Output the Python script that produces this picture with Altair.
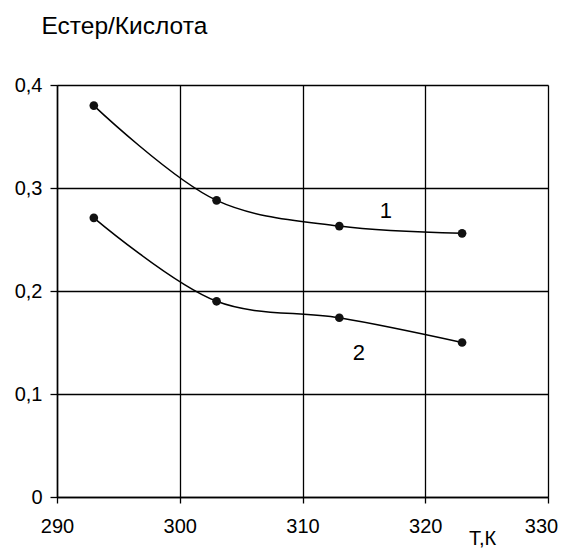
import altair as alt
import pandas as pd

# Data
temps = [293, 303, 313, 323]
series1 = [0.380, 0.288, 0.263, 0.256]
series2 = [0.271, 0.190, 0.174, 0.150]
curve_labels = ["1", "2"]
label_x = [316.8, 314.6]
label_y = [0.278, 0.140]

x_ticks = [290, 300, 310, 320, 330]
y_ticks = [0, 0.1, 0.2, 0.3, 0.4]

rows = []
for t, v in zip(temps, series1):
    rows.append({"T": t, "v": v, "s": "1"})
for t, v in zip(temps, series2):
    rows.append({"T": t, "v": v, "s": "2"})
df = pd.DataFrame(rows)
lab_df = pd.DataFrame({"t": curve_labels, "x": label_x, "y": label_y})

FONT = "Liberation Sans"

xscale = alt.Scale(domain=[290, 330], nice=False, zero=False)
yscale = alt.Scale(domain=[0, 0.4], nice=False)

xaxis = alt.Axis(
    values=x_ticks, grid=True, gridColor="black", gridWidth=1.3, gridOpacity=1,
    domainColor="black", domainWidth=1.5, tickColor="black", tickSize=6, tickWidth=1.3,
    labelFont=FONT, labelFontSize=20, labelColor="black", labelPadding=13,
    labelFlush=False, labelOverlap=False,
    labelOffset={"condition": {"test": "datum.value == 330", "value": -7}, "value": 0},
    title="Т,К", titleFont=FONT, titleFontSize=20, titleFontWeight="normal",
    titleColor="black", titleX=425, titleY=41, titleAlign="center", titleBaseline="middle",
)
yaxis = alt.Axis(
    values=y_ticks, grid=True, gridColor="black", gridWidth=1.3, gridOpacity=1,
    domainColor="black", domainWidth=1.5, tickColor="black", tickSize=7, tickWidth=1.3,
    labelFont=FONT, labelFontSize=20, labelColor="black", labelPadding=8,
    labelFlush=False, labelOverlap=False,
    labelExpr="datum.value == 0 ? '0' : replace(format(datum.value, '.1f'), '.', ',')",
    title="Естер/Кислота", titleFont=FONT, titleFontSize=24.5, titleFontWeight="normal",
    titleColor="black", titleAngle=0, titleAlign="left", titleBaseline="middle",
    titleX=-16, titleY=-59,
)

base = alt.Chart(df)
lines = base.mark_line(interpolate="catmull-rom", color="black", strokeWidth=1.5).encode(
    x=alt.X("T:Q", scale=xscale, axis=xaxis),
    y=alt.Y("v:Q", scale=yscale, axis=yaxis),
    detail="s:N",
)
points = base.mark_circle(size=75, color="#111111", opacity=1).encode(
    x=alt.X("T:Q", scale=xscale),
    y=alt.Y("v:Q", scale=yscale),
)
labels = alt.Chart(lab_df).mark_text(font=FONT, fontSize=22, color="black").encode(
    x=alt.X("x:Q", scale=xscale),
    y=alt.Y("y:Q", scale=yscale),
    text="t:N",
)

chart = alt.layer(lines, points, labels).properties(
    width=491, height=412,
    autosize=alt.AutoSizeParams(type="none"),
    padding={"left": 49, "top": 77, "right": 10, "bottom": 54},
).configure_view(stroke="black", strokeWidth=1.5).configure(background="white")

chart.save("out.html", embed_options={"renderer": "svg", "actions": False})
